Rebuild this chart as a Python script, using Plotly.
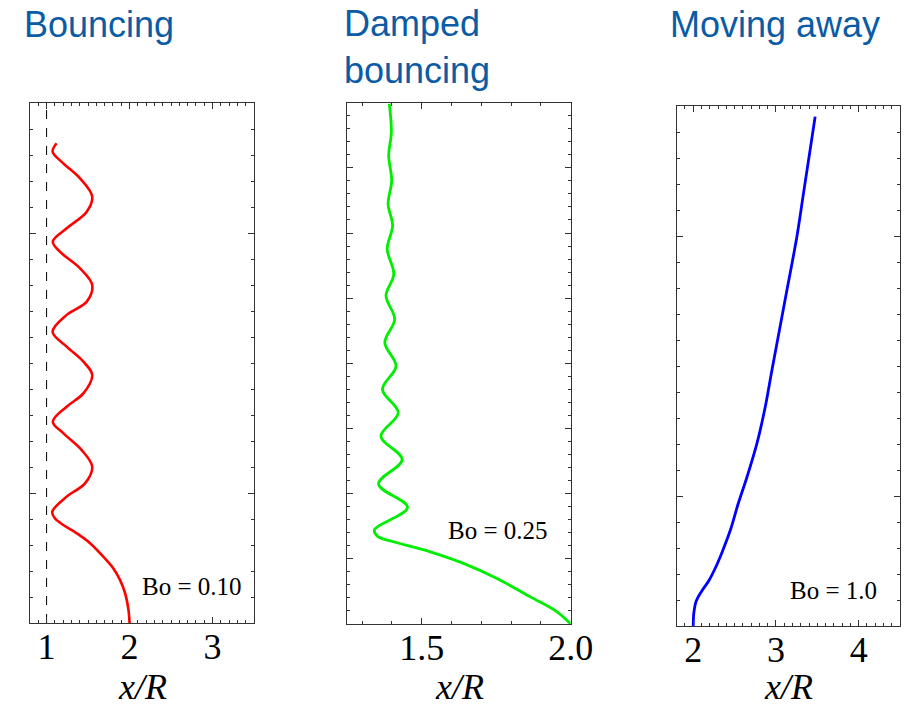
import plotly.graph_objects as go

# ---------------- data ----------------
# Panel 1: Bouncing, Bo = 0.10   (x/R, time-like vertical coordinate)
red_x = [2.0, 1.987, 1.947, 1.886, 1.805, 1.684, 1.524, 1.363, 1.201, 1.100, 1.068,
         1.242, 1.463, 1.550, 1.423, 1.201,
         1.075, 1.242, 1.443, 1.550, 1.443, 1.242,
         1.072, 1.242, 1.484, 1.550, 1.403, 1.161,
         1.075, 1.242, 1.484, 1.550, 1.403, 1.201,
         1.072, 1.121]
red_y = [0.0, 0.50, 1.14, 1.65, 2.10, 2.55, 3.07, 3.45, 3.77, 4.03, 4.28,
         4.86, 5.37, 6.01, 6.65, 7.30,
         7.74, 8.32, 8.83, 9.54, 10.05, 10.63,
         11.20, 11.85, 12.36, 13.00, 13.64, 14.28,
         14.67, 15.18, 15.82, 16.40, 17.10, 17.68,
         18.13, 18.45]
wall_x = [1.0, 1.0]

# Panel 2: Damped bouncing, Bo = 0.25
green_x = [2.0, 1.953, 1.863, 1.751, 1.638, 1.526, 1.402, 1.352, 1.341,
           1.452, 1.355, 1.434, 1.363, 1.421, 1.368, 1.4135, 1.376, 1.409,
           1.380, 1.406, 1.384, 1.402, 1.387, 1.399, 1.389, 1.398, 1.391]
green_y = [0.0, 0.95, 2.10, 3.51, 4.67, 5.56, 6.33, 6.72, 7.23,
           8.95, 10.75, 12.62, 14.41, 16.21, 18.0, 19.79, 21.59, 23.38,
           25.18, 26.85, 28.77, 30.56, 32.23, 34.02, 35.95, 37.74, 39.92]

# Panel 3: Moving away, Bo = 1.0
blue_x = [2.0, 2.007, 2.035, 2.10, 2.19, 2.27, 2.35, 2.45, 2.545, 2.651, 2.771,
          2.871, 2.952, 3.133, 3.253, 3.333, 3.413, 3.474]
blue_y = [0.0, 0.49, 0.95, 1.33, 1.75, 2.25, 2.85, 3.70, 4.72, 5.74, 7.03,
          8.43, 9.85, 12.92, 14.97, 16.64, 18.31, 19.59]

titles = ["Bouncing", "Damped<br>bouncing", "Moving away"]
bo_labels = ["Bo = 0.10", "Bo = 0.25", "Bo = 1.0"]
x_ranges = [[0.8, 3.5], [1.25, 2.0], [1.8, 4.5]]
y_ranges = [[0, 20], [0, 40], [0, 20]]
x_dticks = [1, 0.5, 1]
y_major = [(5, 10), (0, 5), (5, 10)]
x_tickformats = ["d", ".1f", "d"]

# ---------------- layout helpers ----------------
W, H = 913, 708
def px(x):
    return x / W
def py(y):
    return 1 - y / H

# panel pixel boxes (left, right, top, bottom)
boxes = [(30, 254, 103, 623), (347.3, 570.7, 102.7, 624), (676.7, 900, 106, 626)]

fig = go.Figure()
frame = "#333333"

fig.add_trace(go.Scatter(x=wall_x, y=y_ranges[0], mode="lines",
                         line=dict(color="black", width=1, dash="dash"),
                         xaxis="x", yaxis="y", showlegend=False))
fig.add_trace(go.Scatter(x=red_x, y=red_y, mode="lines",
                         line=dict(color="#ff0000", width=2.6, shape="spline", smoothing=1.0),
                         xaxis="x", yaxis="y", showlegend=False))
fig.add_trace(go.Scatter(x=green_x, y=green_y, mode="lines",
                         line=dict(color="#00ee00", width=2.8, shape="spline", smoothing=1.0),
                         xaxis="x2", yaxis="y2", showlegend=False))
fig.add_trace(go.Scatter(x=blue_x, y=blue_y, mode="lines",
                         line=dict(color="#0000ff", width=2.8, shape="spline", smoothing=1.0),
                         xaxis="x3", yaxis="y3", showlegend=False))

layout = dict(width=W, height=H, autosize=False,
              margin=dict(l=0, r=0, t=0, b=0, pad=0, autoexpand=False),
              paper_bgcolor="white", plot_bgcolor="white", showlegend=False)

annotations = []
for i in range(3):
    l, r, t, b = boxes[i]
    sx = "" if i == 0 else str(i + 1)
    layout["xaxis" + sx] = dict(
        domain=[px(l), px(r)], range=x_ranges[i], anchor="y" + sx, automargin=False,
        showline=True, linecolor=frame, linewidth=1, mirror="allticks",
        ticks="inside", ticklen=6, tickwidth=1, tickcolor=frame,
        dtick=x_dticks[i], tick0=0, tickformat=x_tickformats[i],
        showgrid=False, zeroline=False, ticklabelstandoff=-8,
        tickfont=dict(family="Liberation Serif", size=36, color="black"),
        minor=dict(dtick=0.1, ticks="inside", ticklen=3, tickwidth=1,
                   tickcolor=frame, showgrid=False),
        fixedrange=True)
    layout["yaxis" + sx] = dict(
        domain=[py(b), py(t)], range=y_ranges[i], anchor="x" + sx, automargin=False,
        showline=True, linecolor=frame, linewidth=1, mirror="allticks",
        ticks="inside", ticklen=6, tickwidth=1, tickcolor=frame,
        tick0=y_major[i][0], dtick=y_major[i][1], showticklabels=False,
        showgrid=False, zeroline=False,
        minor=dict(dtick=1, ticks="inside", ticklen=3, tickwidth=1,
                   tickcolor=frame, showgrid=False),
        fixedrange=True)
    # x-axis title
    annotations.append(dict(text="<i>x/R</i>", xref="paper", yref="paper",
                            x=px((l + r) / 2), y=0, xanchor="center", yanchor="bottom",
                            showarrow=False, borderpad=0,
                            font=dict(family="Liberation Serif", size=36, color="black")))

title_pos = [(22, 25), (342, 47), (668, 25)]
for (tx, ty), txt in zip(title_pos, titles):
    annotations.append(dict(text=txt, xref="paper", yref="paper", x=px(tx), y=py(ty),
                            xanchor="left", yanchor="middle", align="left", showarrow=False,
                            font=dict(family="Liberation Sans", size=36, color="#0b5ca5")))

bo_pos = [(191.7, 586.7), (498, 530), (833, 590)]
for (bx, by), txt in zip(bo_pos, bo_labels):
    annotations.append(dict(text=txt, xref="paper", yref="paper", x=px(bx), y=py(by),
                            xanchor="center", yanchor="middle", showarrow=False,
                            font=dict(family="Liberation Serif", size=25, color="black")))

layout["annotations"] = annotations
fig.update_layout(**layout)
fig.write_html("out.html")
